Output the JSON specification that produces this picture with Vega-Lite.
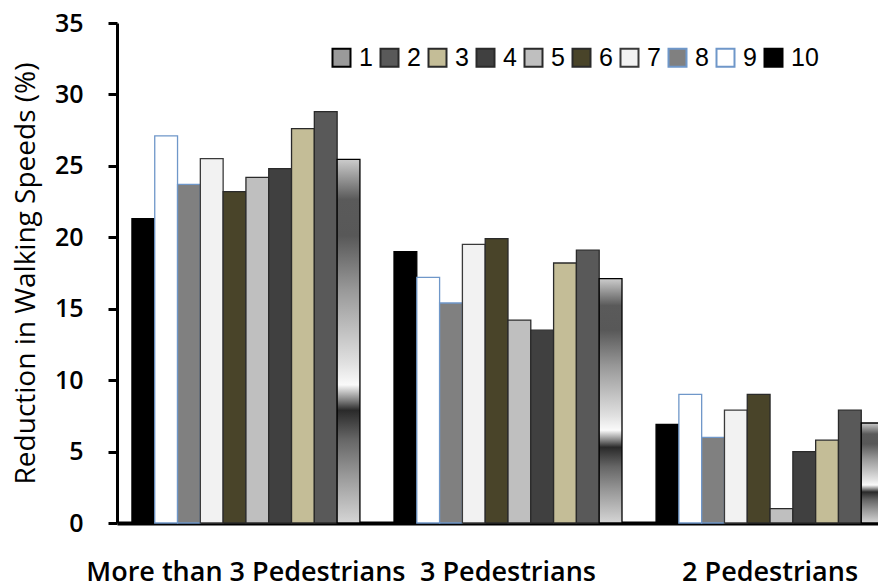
{
  "$schema": "https://vega.github.io/schema/vega-lite/v6.json",
  "autosize": {"type": "none"},
  "width": 761,
  "height": 500,
  "padding": {"left": 117, "top": 23, "right": 0, "bottom": 65},
  "background": "white",
  "config": {"view": {"stroke": null}},
  "data": {
    "values": [
      {"group": "More than 3 Pedestrians", "series": "10", "value": 21.3},
      {"group": "More than 3 Pedestrians", "series": "9", "value": 27.1},
      {"group": "More than 3 Pedestrians", "series": "8", "value": 23.7},
      {"group": "More than 3 Pedestrians", "series": "7", "value": 25.5},
      {"group": "More than 3 Pedestrians", "series": "6", "value": 23.2},
      {"group": "More than 3 Pedestrians", "series": "5", "value": 24.2},
      {"group": "More than 3 Pedestrians", "series": "4", "value": 24.8},
      {"group": "More than 3 Pedestrians", "series": "3", "value": 27.6},
      {"group": "More than 3 Pedestrians", "series": "2", "value": 28.8},
      {"group": "More than 3 Pedestrians", "series": "1", "value": 25.45},
      {"group": "3 Pedestrians", "series": "10", "value": 19.0},
      {"group": "3 Pedestrians", "series": "9", "value": 17.2},
      {"group": "3 Pedestrians", "series": "8", "value": 15.4},
      {"group": "3 Pedestrians", "series": "7", "value": 19.5},
      {"group": "3 Pedestrians", "series": "6", "value": 19.9},
      {"group": "3 Pedestrians", "series": "5", "value": 14.2},
      {"group": "3 Pedestrians", "series": "4", "value": 13.5},
      {"group": "3 Pedestrians", "series": "3", "value": 18.2},
      {"group": "3 Pedestrians", "series": "2", "value": 19.1},
      {"group": "3 Pedestrians", "series": "1", "value": 17.1},
      {"group": "2 Pedestrians", "series": "10", "value": 6.9},
      {"group": "2 Pedestrians", "series": "9", "value": 9.0},
      {"group": "2 Pedestrians", "series": "8", "value": 6.0},
      {"group": "2 Pedestrians", "series": "7", "value": 7.9},
      {"group": "2 Pedestrians", "series": "6", "value": 9.0},
      {"group": "2 Pedestrians", "series": "5", "value": 1.0},
      {"group": "2 Pedestrians", "series": "4", "value": 5.0},
      {"group": "2 Pedestrians", "series": "3", "value": 5.8},
      {"group": "2 Pedestrians", "series": "2", "value": 7.9},
      {"group": "2 Pedestrians", "series": "1", "value": 7.0}
    ]
  },
  "mark": {"type": "bar", "strokeWidth": 1.3},
  "encoding": {
    "x": {
      "field": "group",
      "type": "nominal",
      "scale": {
        "domain": ["More than 3 Pedestrians", "3 Pedestrians", "2 Pedestrians"],
        "range": [0, 782],
        "paddingInner": 0.13,
        "paddingOuter": 0.057
      },
      "axis": {
        "title": null,
        "labelAngle": 0,
        "labelLimit": 0,
        "ticks": false,
        "domainColor": "black",
        "domainWidth": 4,
        "labelFont": "Open Sans",
        "labelFontSize": 27,
        "labelFontWeight": 600,
        "labelColor": "black",
        "labelPadding": 57,
        "labelBaseline": "alphabetic"
      }
    },
    "xOffset": {
      "field": "series",
      "type": "nominal",
      "scale": {
        "domain": ["10", "9", "8", "7", "6", "5", "4", "3", "2", "1"],
        "paddingInner": 0,
        "paddingOuter": 0
      }
    },
    "y": {
      "field": "value",
      "type": "quantitative",
      "scale": {"domain": [0, 35], "nice": false},
      "axis": {
        "title": "Reduction in Walking Speeds (%)",
        "titleFont": "Open Sans",
        "titleFontSize": 28,
        "titleFontWeight": 400,
        "titleColor": "black",
        "titlePadding": 14,
        "values": [0, 5, 10, 15, 20, 25, 30, 35],
        "grid": false,
        "domainColor": "black",
        "domainWidth": 3,
        "tickColor": "black",
        "tickWidth": 3,
        "tickSize": 9,
        "labelFont": "Open Sans",
        "labelFontSize": 25,
        "labelFontWeight": 600,
        "labelColor": "black",
        "labelPadding": 25
      }
    },
    "fill": {
      "field": "series",
      "type": "nominal",
      "condition": {
        "test": "datum.series === '1'",
        "value": {
          "gradient": "linear",
          "x1": 0, "y1": 0, "x2": 0, "y2": 1,
          "stops": [
            {"offset": 0, "color": "#cccccc"},
            {"offset": 0.11, "color": "#5a5a5a"},
            {"offset": 0.21, "color": "#585858"},
            {"offset": 0.36, "color": "#999999"},
            {"offset": 0.47, "color": "#c0c0c0"},
            {"offset": 0.56, "color": "#e0e0e0"},
            {"offset": 0.62, "color": "#fafafa"},
            {"offset": 0.66, "color": "#888888"},
            {"offset": 0.69, "color": "#2a2a2a"},
            {"offset": 0.77, "color": "#666666"},
            {"offset": 0.87, "color": "#999999"},
            {"offset": 1, "color": "#d5d5d5"}
          ]
        }
      },
      "scale": {
        "domain": ["1", "2", "3", "4", "5", "6", "7", "8", "9", "10"],
        "range": ["#9a9a9a", "#595959", "#c4bd97", "#404040", "#bfbfbf", "#494429", "#f2f2f2", "#808080", "#ffffff", "#000000"]
      },
      "legend": {
        "title": null,
        "orient": "none",
        "legendX": 212,
        "legendY": 22,
        "direction": "horizontal",
        "columns": 10,
        "symbolType": "square",
        "symbolSize": 324,
        "symbolStrokeWidth": 2,
        "symbolOpacity": 1,
        "labelFont": "Liberation Sans",
        "labelFontSize": 25,
        "labelColor": "black",
        "labelOffset": 5,
        "columnPadding": 3
      }
    },
    "stroke": {
      "field": "series",
      "type": "nominal",
      "scale": {
        "domain": ["1", "2", "3", "4", "5", "6", "7", "8", "9", "10"],
        "range": ["#000000", "#2a2a2a", "#2a2a2a", "#2a2a2a", "#2a2a2a", "#2a2a2a", "#3a3a3a", "#6f97c9", "#6f97c9", "#000000"]
      },
      "legend": null
    }
  }
}
